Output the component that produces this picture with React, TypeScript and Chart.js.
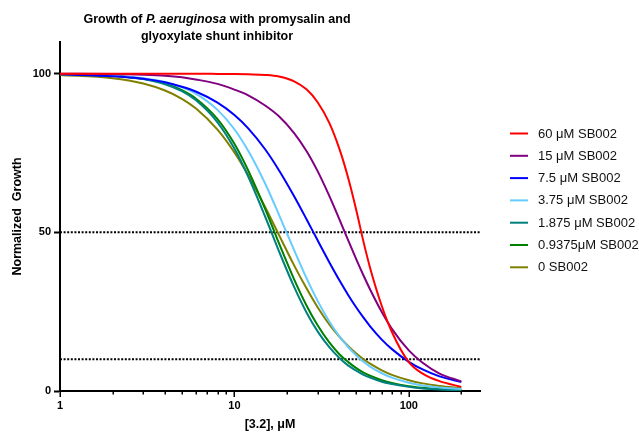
import { useEffect, useRef } from "react";
import { Chart, registerables } from "chart.js";

Chart.register(...registerables);

// ---------- data ----------
const concentrations = [1, 2, 3, 4, 5, 6, 8, 10, 12, 15, 18, 22, 26, 30, 35, 40, 45, 50, 55, 60, 70, 80, 100, 120, 150, 200];

const sb60 = [100, 100, 100, 100, 100, 100, 99.95, 99.9, 99.8, 99.6, 99.1, 97.6, 95.0, 91.0, 84.5, 76.3, 67.0, 57.0, 47.0, 38.8, 26.8, 18.6, 9.1, 5.5, 3.1, 1.3];
const sb15 = [99.98, 99.9, 99.7, 99.4, 98.9, 98.2, 96.8, 95.0, 93.2, 90.0, 86.6, 81.3, 75.5, 69.3, 61.5, 54.1, 47.4, 41.5, 36.4, 32.0, 24.9, 19.6, 12.8, 8.9, 5.5, 3.0];
const sb7_5 = [99.8, 99.2, 98.4, 97.3, 95.9, 94.4, 90.9, 87.0, 82.8, 76.2, 69.6, 61.4, 54.0, 47.5, 40.6, 34.9, 30.2, 26.3, 23.1, 20.4, 16.2, 13.2, 9.2, 6.8, 4.6, 2.8];
const sb3_75 = [99.9, 99.4, 98.6, 97.4, 95.7, 93.7, 88.6, 82.5, 75.7, 65.4, 55.6, 44.4, 35.4, 28.4, 21.9, 17.2, 13.8, 11.2, 9.2, 7.7, 5.6, 4.2, 2.6, 1.7, 1.1, 0.6];
const sb1_875 = [99.9, 99.4, 98.3, 96.7, 94.5, 91.7, 84.7, 76.4, 67.6, 55.0, 44.1, 32.8, 24.6, 18.8, 13.8, 10.4, 8.0, 6.4, 5.1, 4.2, 2.9, 2.2, 1.3, 0.8, 0.5, 0.2];
const sb0_9375 = [99.9, 99.4, 98.4, 96.9, 94.8, 92.2, 85.7, 77.9, 69.5, 57.4, 46.6, 35.2, 26.8, 20.7, 15.3, 11.6, 9.1, 7.2, 5.8, 4.8, 3.4, 2.5, 1.5, 1.0, 0.6, 0.3];
const sb0 = [99.6, 98.6, 96.9, 94.7, 92.1, 89.1, 82.4, 75.2, 68.0, 58.0, 49.2, 39.6, 32.2, 26.4, 21.0, 17.1, 14.1, 11.8, 10.0, 8.6, 6.5, 5.1, 3.4, 2.4, 1.6, 0.9];

const seriesValues = [sb60, sb15, sb7_5, sb3_75, sb1_875, sb0_9375, sb0];
const seriesLabels = ["60 μM SB002", "15 μM SB002", "7.5 μM SB002", "3.75 μM SB002", "1.875 μM SB002", "0.9375μM SB002", "0 SB002"];
const seriesColors = ["#FF0000", "#800080", "#0000FF", "#66CCFF", "#008080", "#008000", "#808000"];

const referenceLevels = [50, 10];

const xMin = 1;
const xMax = 256;
const yMin = 0;
const yMax = 110;
const xTickValues = [1, 2, 3, 4, 5, 6, 7, 8, 9, 10, 20, 30, 40, 50, 60, 70, 80, 90, 100, 200];
const xTickLabels = [1, 10, 100];
const yTickValues = [0, 50, 100];

const titleLine1 = ["Growth of ", "P. aeruginosa", " with promysalin and"];
const titleLine2 = "glyoxylate shunt inhibitor";
const xAxisTitle = "[3.2], μM";
const yAxisTitle = "Normalized  Growth";

const FAMILY = '"Liberation Sans", Arial, Helvetica, sans-serif';

// ---------- plugins ----------
const titlePlugin = {
  id: "mixedTitle",
  afterDraw(chart: any) {
    const ctx = chart.ctx;
    const cx = 217;
    const bold = `bold 12.5px ${FAMILY}`;
    const italic = `italic bold 12.5px ${FAMILY}`;
    const fonts = [bold, italic, bold];
    ctx.save();
    ctx.fillStyle = "#000";
    ctx.textBaseline = "alphabetic";
    ctx.textAlign = "left";
    let total = 0;
    const widths = titleLine1.map((t, i) => {
      ctx.font = fonts[i];
      const w = ctx.measureText(t).width;
      total += w;
      return w;
    });
    let x = cx - total / 2;
    titleLine1.forEach((t, i) => {
      ctx.font = fonts[i];
      ctx.fillText(t, x, 22.5);
      x += widths[i];
    });
    ctx.font = bold;
    ctx.textAlign = "center";
    ctx.fillText(titleLine2, cx, 39.5);
    ctx.restore();
  },
};

const legendPlugin = {
  id: "sideLegend",
  afterDraw(chart: any) {
    const ctx = chart.ctx;
    const top = 133.5;
    const step = 22.3;
    ctx.save();
    ctx.font = `13px ${FAMILY}`;
    ctx.textBaseline = "middle";
    ctx.textAlign = "left";
    seriesLabels.forEach((label, i) => {
      const y = top + i * step;
      ctx.strokeStyle = seriesColors[i];
      ctx.lineWidth = 2;
      ctx.beginPath();
      ctx.moveTo(510, y);
      ctx.lineTo(528, y);
      ctx.stroke();
      ctx.fillStyle = "#111";
      ctx.fillText(label, 538, y + 0.5);
    });
    ctx.restore();
  },
};

const xTickPlugin = {
  id: "xTickMarks",
  afterDraw(chart: any) {
    const scale = chart.scales.x;
    const ctx = chart.ctx;
    const y0 = chart.chartArea.bottom;
    ctx.save();
    ctx.strokeStyle = "#000";
    ctx.lineWidth = 1.5;
    scale.ticks.forEach((t: any) => {
      const px = Math.round(scale.getPixelForValue(t.value)) + 0.25;
      const len = xTickLabels.includes(t.value) ? 6 : 3.5;
      ctx.beginPath();
      ctx.moveTo(px, y0);
      ctx.lineTo(px, y0 + len);
      ctx.stroke();
    });
    ctx.restore();
  },
};

export default function App() {
  const ref = useRef<HTMLCanvasElement>(null);

  useEffect(() => {
    document.body.style.margin = "0";
    if (!ref.current) return;

    const curveSets = seriesValues.map((vals, i) => ({
      label: seriesLabels[i],
      data: concentrations.map((c, j) => ({ x: c, y: vals[j] })),
      borderColor: seriesColors[i],
      backgroundColor: seriesColors[i],
      borderWidth: 2,
      pointRadius: 0,
      cubicInterpolationMode: "monotone" as const,
      fill: false,
    }));

    const refSets = referenceLevels.map((lvl) => ({
      label: `ref-${lvl}`,
      data: [
        { x: xMin, y: lvl },
        { x: xMax, y: lvl },
      ],
      borderColor: "#000",
      borderWidth: 2,
      borderDash: [2, 1.6],
      pointRadius: 0,
      fill: false,
    }));

    const chart = new Chart(ref.current, {
      type: "line",
      data: { datasets: [...curveSets, ...refSets] as any },
      options: {
        responsive: false,
        animation: false,
        parsing: false as any,
        normalized: true,
        layout: { padding: { top: 42, right: 159, left: 0, bottom: 0 } },
        plugins: {
          legend: { display: false },
          tooltip: { enabled: false },
          title: { display: false },
        },
        scales: {
          x: {
            type: "logarithmic",
            min: xMin,
            max: xMax,
            afterBuildTicks: (s: any) => {
              s.ticks = xTickValues.map((v) => ({ value: v, major: false }));
            },
            afterFit: (s: any) => {
              s.height = 41;
            },
            grid: { display: false, drawTicks: true, tickLength: 6 },
            border: { display: true, color: "#000", width: 2 },
            ticks: {
              autoSkip: false,
              maxRotation: 0,
              minRotation: 0,
              padding: 2,
              color: "#000",
              font: { family: FAMILY, size: 11, weight: "bold" },
              callback: (v: any) => (xTickLabels.includes(Number(v)) ? String(v) : ""),
            },
            title: {
              display: true,
              text: xAxisTitle,
              color: "#000",
              font: { family: FAMILY, size: 12.5, weight: "bold" },
              padding: { top: 0, bottom: 0 },
            },
          },
          y: {
            type: "linear",
            min: yMin,
            max: yMax,
            afterBuildTicks: (s: any) => {
              s.ticks = yTickValues.map((v) => ({ value: v }));
            },
            afterFit: (s: any) => {
              s.width = 60;
            },
            grid: {
              display: true,
              drawOnChartArea: false,
              drawTicks: true,
              tickLength: 6,
              tickColor: "#000",
              tickWidth: 2,
            },
            border: { display: true, color: "#000", width: 2 },
            ticks: {
              padding: 3,
              color: "#000",
              font: { family: FAMILY, size: 11, weight: "bold" },
              callback: (v: any) => String(v),
            },
            title: {
              display: true,
              text: yAxisTitle,
              color: "#000",
              font: { family: FAMILY, size: 12.5, weight: "bold" },
              padding: { top: 10, bottom: 0 },
            },
          },
        },
      } as any,
      plugins: [titlePlugin, legendPlugin, xTickPlugin],
    });

    return () => chart.destroy();
  }, []);

  return (
    <div style={{ width: 639, height: 432, background: "#fff" }}>
      <canvas ref={ref} width={639} height={432} style={{ display: "block" }} />
    </div>
  );
}
